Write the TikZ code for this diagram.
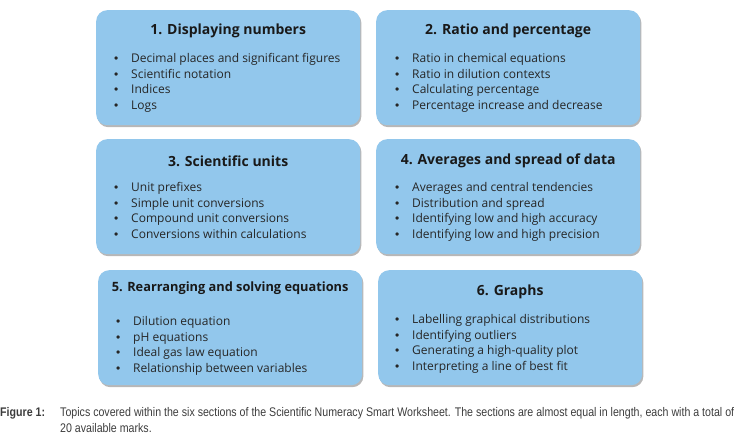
\documentclass[tikz,border=0pt]{standalone}
\usepackage{fontspec}
\setmainfont{Open Sans}
\newfontfamily\capfont[FakeStretch=0.85]{Liberation Sans}
\newfontfamily\dotfont{Liberation Sans}
\usetikzlibrary{positioning, shadows}
\definecolor{boxblue}{RGB}{146,199,236}
\definecolor{captext}{RGB}{60,60,60}
\newcommand{\topicdot}{\makebox[17pt][l]{\dotfont\textbullet}}

\begin{document}
\begin{tikzpicture}[x=1pt, y=-1pt,
            topic/.style = {rectangle, rounded corners=11pt, fill=boxblue, draw=none, minimum width=264pt, minimum height=115pt, anchor=north west, drop shadow={shadow xshift=1.2pt, shadow yshift=-2pt, opacity=0.4, fill=black!70}},
            heading/.style = {font=\fontsize{14}{16}\selectfont\bfseries, text=black!90, inner sep=0},
            points/.style = {font=\fontsize{12}{15.7}\selectfont, align=left, anchor=north west, inner sep=0, text=black!85},
            caption/.style = {font=\capfont\fontsize{12.5}{16}\selectfont, align=left, anchor=north west, inner sep=0, text=captext}]
            \useasboundingbox (0,0) rectangle (748,442);
            % boxes
            \node[topic] (b1) at (96,10) {};
            \node[topic] (b2) at (376,10) {};
            \node[topic] (b3) at (96,139) {};
            \node[topic] (b4) at (376,139) {};
            \node[topic] (b5) at (98,270) {};
            \node[topic] (b6) at (378,270) {};
            % headings
            \node[heading] (h1) at ([yshift=-21pt]b1.north) {1. Displaying numbers};
            \node[heading] (h2) at ([yshift=-21pt]b2.north) {2. Ratio and percentage};
            \node[heading] (h3) at ([yshift=-22pt]b3.north) {3. Scientific units};
            \node[heading] (h4) at ([yshift=-22pt]b4.north) {4. Averages and spread of data};
            \node[heading, font=\fontsize{12.8}{16}\selectfont\bfseries] (h5) at ([yshift=-18pt]b5.north) {5. Rearranging and solving equations};
            \node[heading] (h6) at ([yshift=-22pt]b6.north) {6. Graphs};
            % bullet points
            \node[points] (p1) at (114,53) {\topicdot Decimal places and significant figures\\ \topicdot Scientific notation\\ \topicdot Indices\\ \topicdot Logs};
            \node[points] (p2) at (395,53) {\topicdot Ratio in chemical equations\\ \topicdot Ratio in dilution contexts\\ \topicdot Calculating percentage\\ \topicdot Percentage increase and decrease};
            \node[points] (p3) at (114,182) {\topicdot Unit prefixes\\ \topicdot Simple unit conversions\\ \topicdot Compound unit conversions\\ \topicdot Conversions within calculations};
            \node[points] (p4) at (395,182) {\topicdot Averages and central tendencies\\ \topicdot Distribution and spread\\ \topicdot Identifying low and high accuracy\\ \topicdot Identifying low and high precision};
            \node[points] (p5) at (116,316) {\topicdot Dilution equation\\ \topicdot pH equations\\ \topicdot Ideal gas law equation\\ \topicdot Relationship between variables};
            \node[points] (p6) at (395,314) {\topicdot Labelling graphical distributions\\ \topicdot Identifying outliers\\ \topicdot Generating a high-quality plot\\ \topicdot Interpreting a line of best fit};
            % Text
            \node[caption] (figlabel) at (0,407) {\bfseries Figure 1:};
            \node[caption] (figtext) at (60,407) {Topics covered within the six sections of the Scientific Numeracy Smart Worksheet. The sections are almost equal in length, each with a total of\\ 20 available marks.};
\end{tikzpicture}
\end{document}
